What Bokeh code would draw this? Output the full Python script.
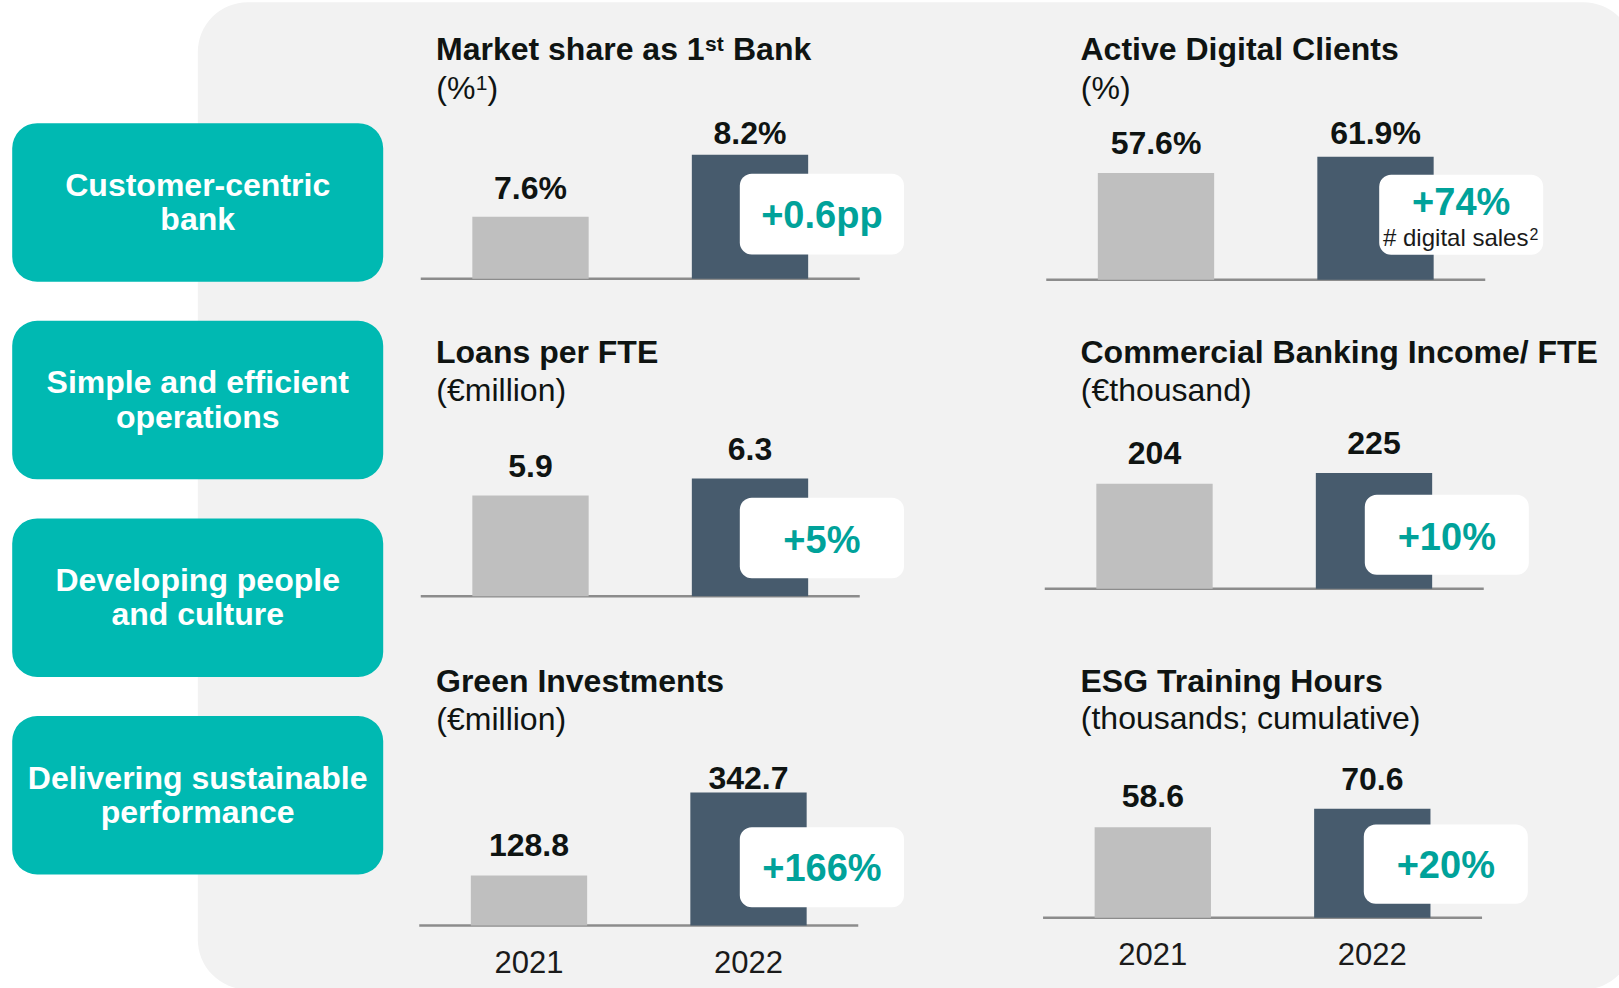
from bokeh.plotting import figure
from bokeh.plotting.glyph_api import GlyphAPI
from bokeh.models import Range1d, FactorRange, CategoricalScale, LinearScale, CoordinateMapping
from bokeh.core.properties import value
from bokeh.embed import file_html
from bokeh.resources import INLINE

# ---------------- data ----------------
years = ["2021", "2022"]

pillars = [
    ["Customer-centric", "bank"],
    ["Simple and efficient", "operations"],
    ["Developing people", "and culture"],
    ["Delivering sustainable", "performance"],
]

market_share = [7.6, 8.2]
digital_clients = [57.6, 61.9]
loans_per_fte = [5.9, 6.3]
cb_income_per_fte = [204, 225]
green_investments = [128.8, 342.7]
esg_training_hours = [58.6, 70.6]

series = [market_share, digital_clients, loans_per_fte,
          cb_income_per_fte, green_investments, esg_training_hours]
value_labels = [["7.6%", "8.2%"], ["57.6%", "61.9%"], ["5.9", "6.3"],
                ["204", "225"], ["128.8", "342.7"], ["58.6", "70.6"]]
titles = ["Market share as 1", "Active Digital Clients", "Loans per FTE",
          "Commercial Banking Income/ FTE", "Green Investments", "ESG Training Hours"]
subtitles = ["(%", "(%)", "(€million)", "(€thousand)", "(€million)",
             "(thousands; cumulative)"]
changes = ["+0.6pp", "+74%", "+5%", "+10%", "+166%", "+20%"]

# ---------------- style / layout ----------------
FONT = value("Liberation Sans")
TEAL = "#00B9B2"
TEAL_TXT = "#00A29A"
PANEL = "#F2F2F2"
BAR_COLORS = ["#BFBFBF", "#475B6D"]
INK = "#0F1412"
SPACING = 219.5
HALF = SPACING / 2
SHIFT = 0.355  # text is placed by its visual middle; convert wanted baseline

# per chart layout (page pixel positions, axis start s, px per unit b)
layout = [
    dict(c1=530.0, base=278.3, s=7.0, b=103.3, gaps=[17.7, 10.7], tx=435.5, ty=60, sy=99,
         badge=(739.3, 903.5, 173.3, 254.0), by=227.7, years=False),
    dict(c1=1155.5, base=279.3, s=29.5, b=3.8, gaps=[18.3, 12.7], tx=1080.0, ty=60, sy=99,
         badge=(1378.7, 1542.7, 174.3, 254.3), by=214.5, years=False),
    dict(c1=530.0, base=595.7, s=3.53, b=42.5, gaps=[17.7, 18.0], tx=435.5, ty=362.7, sy=400.5,
         badge=(739.3, 903.5, 497.3, 577.7), by=552.7, years=False),
    dict(c1=1154.0, base=588.3, s=0.0, b=0.515, gaps=[19.0, 18.3], tx=1080.0, ty=362.7, sy=400.5,
         badge=(1364.3, 1528.3, 494.3, 574.3), by=550.0, years=False),
    dict(c1=528.5, base=925.0, s=0.0, b=0.388, gaps=[19.0, 2.7], tx=435.5, ty=691.7, sy=729.5,
         badge=(739.3, 903.5, 826.7, 906.7), by=881.0, years=True),
    dict(c1=1152.3, base=917.3, s=0.0, b=1.545, gaps=[19.7, 18.0], tx=1080.0, ty=691.7, sy=729.0,
         badge=(1363.3, 1527.3, 824.0, 903.3), by=878.3, years=True),
]

W, H = 1619, 988
p = figure(width=W, height=H, x_range=Range1d(0, W), y_range=Range1d(H, 0),
           output_backend="svg", toolbar_location=None, min_border=0,
           x_axis_type=None, y_axis_type=None,
           background_fill_color="white", border_fill_color="white",
           outline_line_color=None)


def label(x, y, text, size, color=INK, bold=False, align="left"):
    """Place text so that its baseline sits at page y."""
    p.text(x=[x], y=[y - SHIFT * size], text=[text], text_font=FONT,
           text_font_size=f"{size}px", text_font_style="bold" if bold else "normal",
           text_color=color, text_align=align, text_baseline="alphabetic")


# background panel
p.quad(left=[197.3], right=[1633], top=[1.7], bottom=[989], fill_color=PANEL,
       line_color=None, border_radius=50)

# pillar boxes
box_top0, box_pitch, box_h = 122.7, 197.6, 158.5
for i, lines in enumerate(pillars):
    top = box_top0 + i * box_pitch
    p.quad(left=[11.7], right=[382.7], top=[top], bottom=[top + box_h],
           fill_color=TEAL, line_color=None, border_radius=25)
    cy = top + box_h / 2
    label(197.2, cy - 6.2, lines[0], 32, color="white", bold=True, align="center")
    label(197.2, cy + 28.1, lines[1], 32, color="white", bold=True, align="center")

for k, cfg in enumerate(layout):
    vals = series[k]
    c1 = cfg["c1"]
    c2 = c1 + SPACING
    mapping = CoordinateMapping(
        x_source=FactorRange(factors=years),
        x_scale=CategoricalScale(),
        x_target=Range1d(c1 - HALF, c2 + HALF),
        y_source=Range1d(cfg["s"], cfg["s"] + 1),
        y_scale=LinearScale(),
        y_target=Range1d(cfg["base"], cfg["base"] - cfg["b"]),
    )
    xy = GlyphAPI(p, mapping)
    # baseline
    p.segment(x0=[c1 - HALF], x1=[c2 + HALF], y0=[cfg["base"]], y1=[cfg["base"]],
              line_color="#8C8C8C", line_width=2.5)
    # bars
    xy.vbar(x=years, top=vals, bottom=cfg["s"], width=0.53,
            fill_color=BAR_COLORS, line_color=None)
    # value labels
    xy.text(x=years, y=vals, text=value_labels[k],
            y_offset=[-(g + SHIFT * 32) for g in cfg["gaps"]],
            text_font=FONT, text_font_size="32px", text_font_style="bold",
            text_color=INK, text_align="center", text_baseline="alphabetic")
    # year labels
    if cfg["years"]:
        xy.text(x=years, y=[cfg["s"], cfg["s"]], text=years, y_offset=47.7 - SHIFT * 31,
                text_font=FONT, text_font_size="31px", text_color="#1A1A1A",
                text_align="center", text_baseline="alphabetic")
    # badge
    l, r, t, b = cfg["badge"]
    p.quad(left=[l], right=[r], top=[t], bottom=[b], fill_color="white",
           line_color=None, border_radius=12)
    label((l + r) / 2, cfg["by"], changes[k], 38, color=TEAL_TXT, bold=True, align="center")
    # titles
    label(cfg["tx"], cfg["ty"], titles[k], 32, bold=True)
    label(cfg["tx"] + 0.3, cfg["sy"], subtitles[k], 32)

# superscripts and extra pieces
label(704.5, 50, "st", 21, bold=True)
label(732.5, 60, "Bank", 32, bold=True)
label(475.3, 89.5, "1", 21)
label(487.0, 99, ")", 32)
label(1382.5, 246, "# digital sales", 24, color="#1A1A1A")
label(1529, 239, "2", 16, color="#1A1A1A")

open("out.html", "w").write(file_html(p, INLINE))
